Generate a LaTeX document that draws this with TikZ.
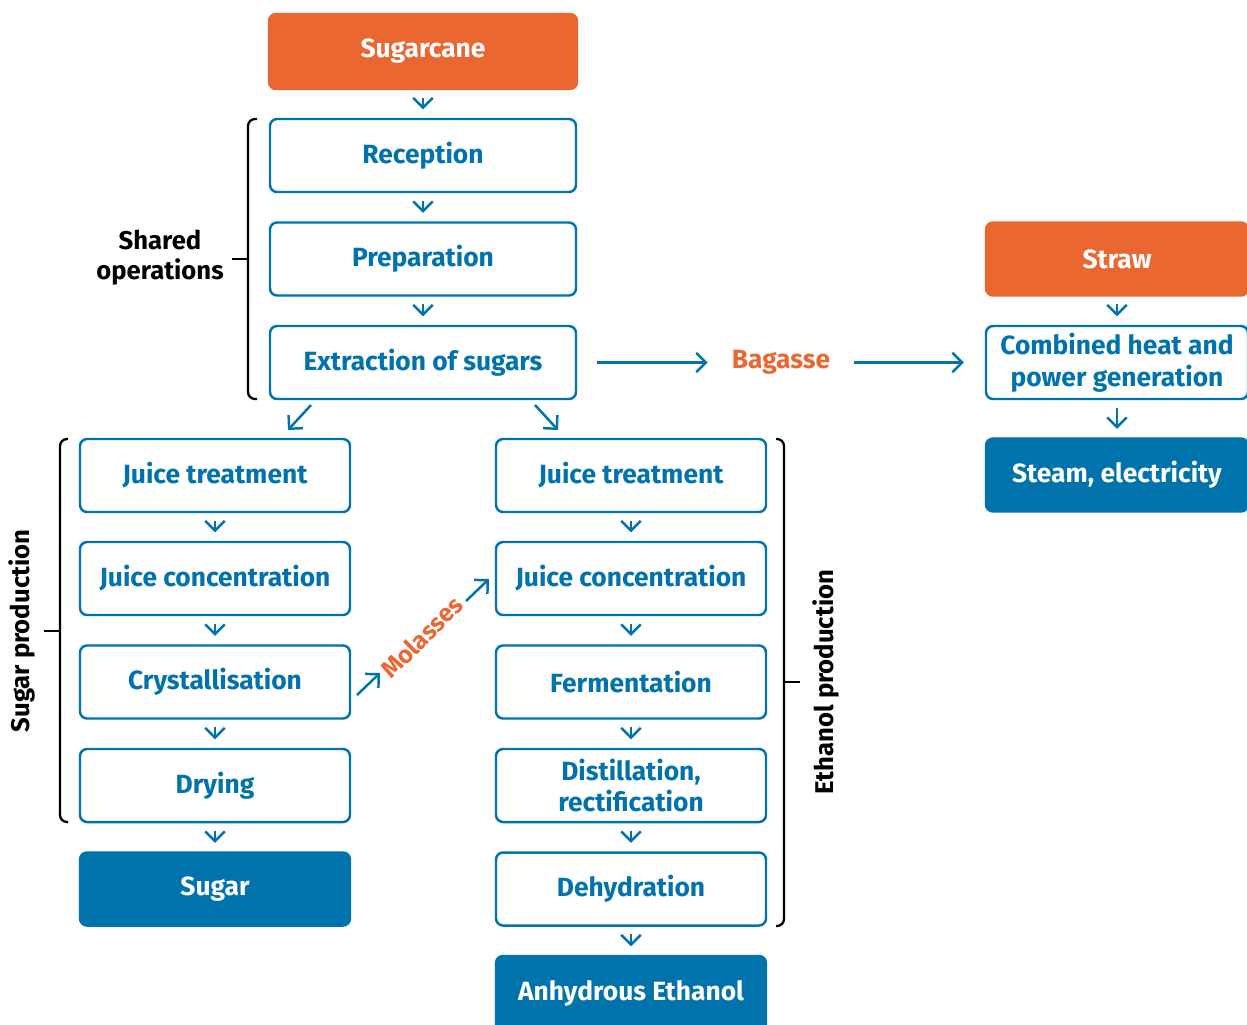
\documentclass[tikz,border=0pt]{standalone}
\usepackage{fontspec}
\setmainfont{Fira Sans}
\usepackage{tikz}
\usetikzlibrary{arrows.meta,positioning,calc}
\definecolor{caneblue}{HTML}{0072AC}
\definecolor{caneorange}{HTML}{EA6732}

\begin{document}
\begin{tikzpicture}[
    step box/.style={draw=caneblue, line width=1.4pt, rounded corners=4pt, fill=white, text=caneblue, minimum width=5.4cm, minimum height=1.46cm, align=center, font=\fontsize{15}{18}\selectfont\bfseries, inner sep=0pt},
    feed/.style={step box, draw=caneorange, fill=caneorange, text=white},
    product/.style={step box, fill=caneblue, text=white},
    arr/.style={-{Straight Barb[length=5.5pt,width=11pt]}, line width=1.4pt, draw=caneblue},
    down/.style={arr, shorten <=0.15cm, shorten >=0.17cm},
    side/.style={text=caneorange, font=\fontsize{15}{18}\selectfont\bfseries},
    group/.style={font=\fontsize{14.6}{17}\selectfont\bfseries, align=center},
    bracket/.style={line width=1.3pt, rounded corners=4pt}
]
\useasboundingbox (0,0) rectangle (24.94,-20.48);

% shared operations
\node[feed, minimum width=6.16cm, minimum height=1.5cm] (cane) at (8.46,-1.03) {Sugarcane};
\node[step box, minimum width=6.12cm] (rec) at (8.46,-3.11) {Reception};
\node[step box, minimum width=6.12cm] (prep) at (8.46,-5.18) {Preparation};
\node[step box, minimum width=6.12cm] (ext) at (8.46,-7.25) {Extraction of sugars};

% sugar line
\node[step box] (sjt) at (4.30,-9.51) {Juice treatment};
\node[step box] (sjc) at (4.30,-11.57) {Juice concentration};
\node[step box] (cry) at (4.30,-13.64) {Crystallisation};
\node[step box] (dry) at (4.30,-15.71) {Drying};
\node[product] (sug) at (4.30,-17.78) {Sugar};

% ethanol line
\node[step box] (ejt) at (12.62,-9.51) {Juice treatment};
\node[step box] (ejc) at (12.62,-11.57) {Juice concentration};
\node[step box] (fer) at (12.62,-13.64) {Fermentation};
\node[step box] (dis) at (12.62,-15.71) {Distillation,\\rectification};
\node[step box] (deh) at (12.62,-17.78) {Dehydration};
\node[product, minimum height=1.5cm] (eth) at (12.62,-19.87) {Anhydrous Ethanol};

% energy line
\node[feed, minimum width=5.24cm] (straw) at (22.34,-5.18) {Straw};
\node[step box, minimum width=5.24cm] (chp) at (22.34,-7.25) {Combined heat and\\power generation};
\node[product, minimum width=5.24cm] (stm) at (22.34,-9.50) {Steam, electricity};

\node[side] (bag) at (15.62,-7.25) {Bagasse};
\node[side, rotate=45, inner sep=1pt, font=\fontsize{14}{16}\selectfont\bfseries] (mol) at (8.44,-12.74) {Molasses};

\coordinate (d1) at (6.22,-8.10);
\coordinate (d2) at (5.76,-8.60);
\coordinate (d3) at (10.70,-8.10);
\coordinate (d4) at (11.16,-8.60);
\coordinate (m1) at (7.14,-13.90);
\coordinate (m2) at (7.60,-13.46);
\coordinate (m3) at (9.32,-12.02);
\coordinate (m4) at (9.78,-11.58);

\draw[down] (cane) -- (rec);
\draw[down] (rec) -- (prep);
\draw[down] (prep) -- (ext);
\draw[down] (sjt) -- (sjc);
\draw[down] (sjc) -- (cry);
\draw[down] (cry) -- (dry);
\draw[down] (dry) -- (sug);
\draw[down] (ejt) -- (ejc);
\draw[down] (ejc) -- (fer);
\draw[down] (fer) -- (dis);
\draw[down] (dis) -- (deh);
\draw[down] (deh) -- (eth);
\draw[down] (straw) -- (chp);
\draw[down] (chp) -- (stm);
\draw[arr] (d1) -- (d2);
\draw[arr] (d3) -- (d4);
\draw[arr] (m1) -- (m2);
\draw[arr] (m3) -- (m4);
\draw[arr, shorten <=0.4cm, shorten >=0.36cm] (ext) -- (bag);
\draw[arr, shorten <=0.36cm, shorten >=0.42cm] (bag) -- (chp);

% group brackets
\draw[bracket] (5.14,-2.38) -- (4.96,-2.38) -- (4.96,-7.98) -- (5.14,-7.98);
\draw[line width=1.3pt] (4.64,-5.18) -- (4.96,-5.18);
\node[group] (shared) at (3.20,-5.16) {Shared\\operations};

\draw[bracket] (1.36,-8.78) -- (1.20,-8.78) -- (1.20,-16.44) -- (1.36,-16.44);
\draw[line width=1.3pt] (0.88,-12.62) -- (1.20,-12.62);
\node[group, rotate=90] (sp) at (0.44,-12.62) {Sugar production};

\draw[bracket] (15.52,-8.78) -- (15.68,-8.78) -- (15.68,-18.52) -- (15.52,-18.52);
\draw[line width=1.3pt] (15.68,-13.64) -- (16.00,-13.64);
\node[group, rotate=90] (ep) at (16.52,-13.64) {Ethanol production};
\end{tikzpicture}
\end{document}
